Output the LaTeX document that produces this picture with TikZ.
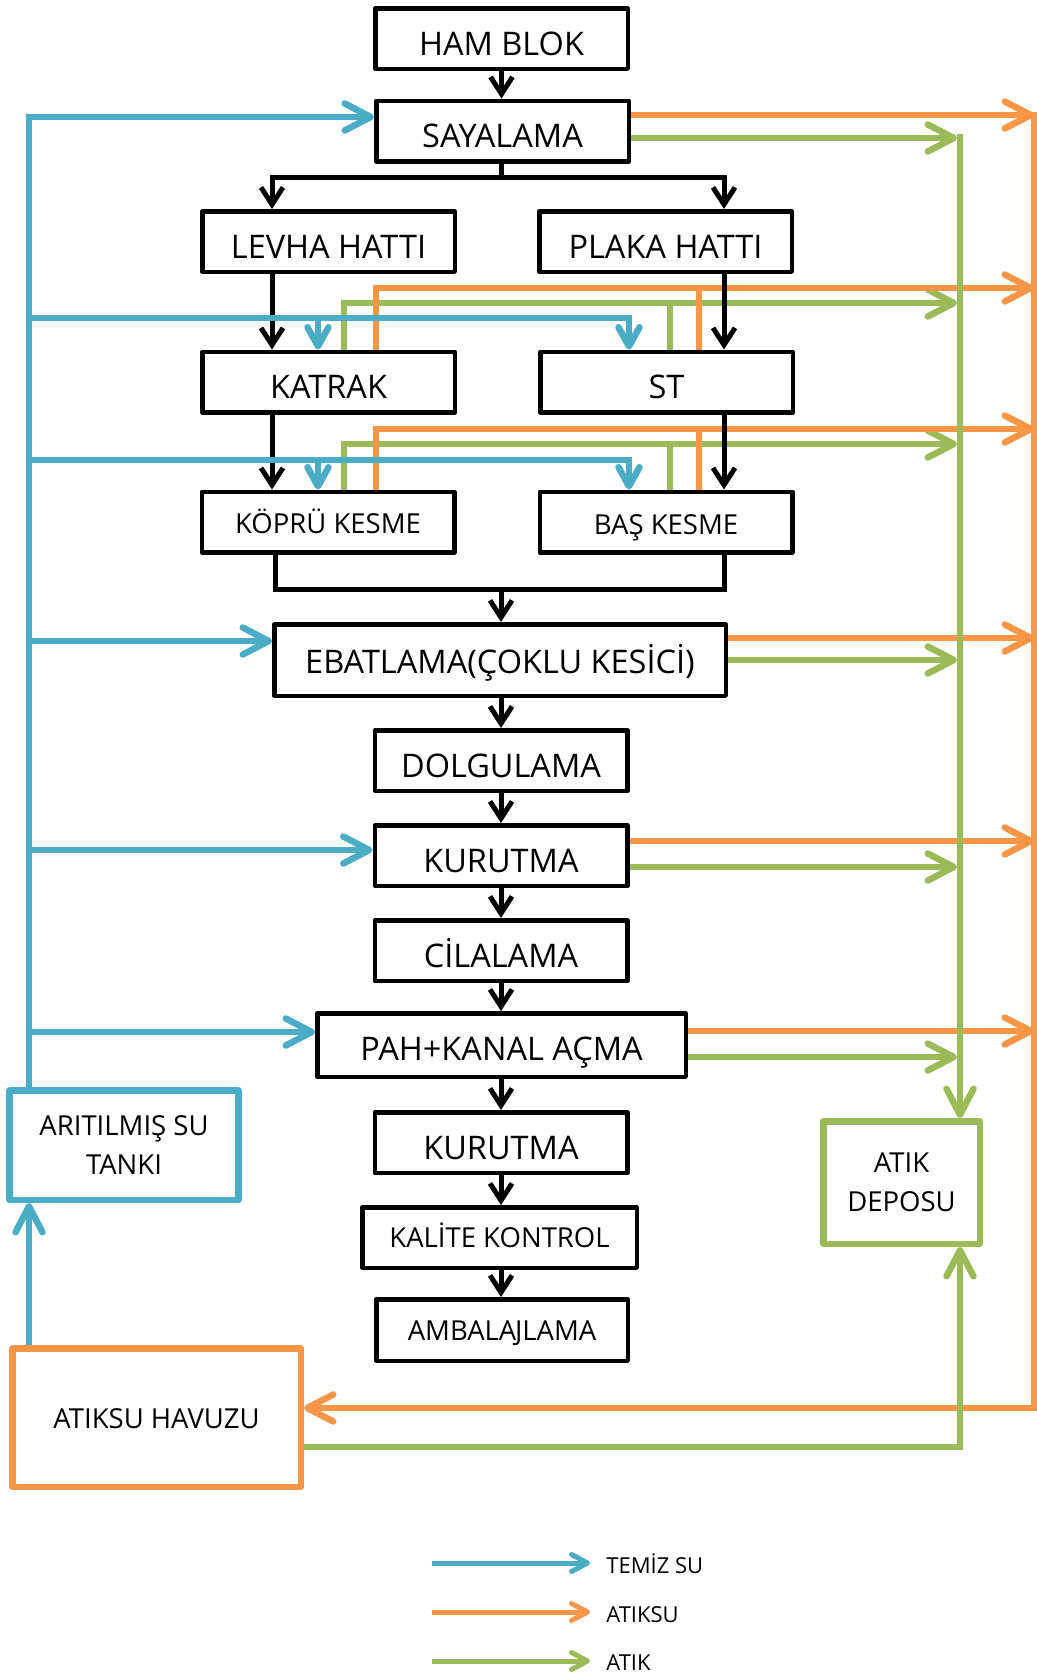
\documentclass[tikz,border=0pt]{standalone}
\usepackage{fontspec}
\setmainfont{Open Sans}
\usetikzlibrary{arrows.meta}
\definecolor{cblue}{RGB}{75,172,198}
\definecolor{corange}{RGB}{247,150,70}
\definecolor{cgreen}{RGB}{155,187,89}
\tikzset{
  box/.style 2 args={draw=black, line width=2.25pt, line join=round, inner sep=0pt, minimum width=#1, minimum height=#2, fill=white},
  stdbox/.style={box={126.25pt}{30.25pt}},
  cbox/.style n args={3}{draw=#1, line width=3.25pt, line join=round, inner sep=0pt, minimum width=#2, minimum height=#3, align=center, fill=white},
  bigf/.style={font=\fontsize{16.25}{19.5}\selectfont},
  smlf/.style={font=\fontsize{13.75}{19.25}\selectfont},
  legf/.style={font=\fontsize{11}{13}\selectfont},
  txh/.style={text height=#1, text depth=0pt},
  bk/.style={draw=black, line width=2.5pt},
  ba/.style={draw=black, line width=2.5pt, -{Straight Barb[length=8.5pt,width=11pt]}},
  cb/.style={draw=cblue, line width=3.25pt},
  co/.style={draw=corange, line width=3.25pt},
  cg/.style={draw=cgreen, line width=3.25pt},
  bigtip/.style={-{Straight Barb[length=13pt,width=13.5pt,round]}},
  smltip/.style={-{Straight Barb[length=9.5pt,width=10.5pt,round]}},
  legtip/.style={line width=2.5pt, -{Straight Barb[length=8pt,width=8.5pt,round]}},
}
\begin{document}
\begin{tikzpicture}[x=0.5pt,y=-0.5pt]
\useasboundingbox (0,0) rectangle (1037,1677);
\fill[white] (0,0) rectangle (1037,1677);

% ---------- boxes ----------
\node[stdbox, bigf, txh=16.6pt] (ham)    at (501.5,38.5)  {HAM BLOK};
\node[stdbox, bigf, txh=16.6pt] (saya)   at (502.5,131)   {SAYALAMA};
\node[stdbox, bigf, txh=16.6pt] (levha)  at (328.5,241.5) {LEVHA HATTI};
\node[stdbox, bigf, txh=16.6pt] (plaka)  at (665.5,241.5) {PLAKA HATTI};
\node[stdbox, bigf, txh=16.6pt] (katrak) at (328.5,382)   {KATRAK};
\node[stdbox, bigf, txh=16.6pt] (st)     at (666.5,382)   {ST};
\node[stdbox, smlf, txh=11.8pt] (kopru)  at (328,522)     {KÖPRÜ KESME};
\node[stdbox, smlf, txh=12.3pt] (bas)    at (666,522)     {BAŞ KESME};
\node[box={225.75pt}{35.75pt}, bigf, txh=13.1pt] (ebat) at (500,660) {EBATLAMA(ÇOKLU KESİCİ)};
\node[stdbox, bigf, txh=16.6pt] (dolgu)  at (501,760.5)   {DOLGULAMA};
\node[stdbox, bigf, txh=16.6pt] (kuru1)  at (501,855.5)   {KURUTMA};
\node[stdbox, bigf, txh=16.6pt] (cila)   at (501,950.5)   {CİLALAMA};
\node[box={184.25pt}{31.75pt}, bigf, txh=15.1pt] (pah) at (501.5,1045) {PAH+KANAL AÇMA};
\node[stdbox, bigf, txh=16.6pt] (kuru2)  at (501,1142.5)  {KURUTMA};
\node[box={137.25pt}{30.25pt}, smlf, txh=9.8pt] (kalite) at (499.5,1237.5) {KALİTE KONTROL};
\node[box={125.75pt}{30.75pt}, smlf, txh=10.8pt] (ambal) at (502,1330) {AMBALA\kern-0.7pt JLAMA};
\node[cbox={cblue}{114.5pt}{54.75pt}, smlf] (arit) at (124,1145) {ARITILMIŞ SU\\TANKI};
\node[cbox={cgreen}{78.25pt}{61.25pt}, smlf] (atik) at (901.5,1182.5) {ATIK\\DEPOSU};
\node[cbox={corange}{144.25pt}{69.25pt}, smlf, txh=11.3pt] (havuz) at (156.5,1417.5) {ATIKSU HAVUZU};

% ---------- lane coordinates ----------
\coordinate (xL) at (272,0);
\coordinate (xP) at (724,0);
\coordinate (xK2) at (275,0);
\coordinate (xM) at (501,0);
\coordinate (xB) at (29,0);
\coordinate (xb1) at (318,0);
\coordinate (xb2) at (629,0);
\coordinate (xg1) at (344,0);
\coordinate (xg2) at (670,0);
\coordinate (xo1) at (376,0);
\coordinate (xo2) at (699,0);
\coordinate (xG) at (960,0);
\coordinate (xGt) at (957,0);
\coordinate (xO) at (1034,0);
\coordinate (ysplit) at (0,177);
\coordinate (yjoin) at (0,589);
\coordinate (y112) at (0,112);
\coordinate (y115) at (0,115);
\coordinate (y117) at (0,117);
\coordinate (y134) at (0,134);
\coordinate (y138) at (0,138);
\coordinate (y288) at (0,288);
\coordinate (y303) at (0,303);
\coordinate (y318) at (0,318);
\coordinate (y429) at (0,429);
\coordinate (y444) at (0,444);
\coordinate (y460) at (0,460);
\coordinate (y638) at (0,638);
\coordinate (y641) at (0,641);
\coordinate (y660) at (0,660);
\coordinate (y841) at (0,841);
\coordinate (y850) at (0,850);
\coordinate (y867) at (0,867);
\coordinate (y1031) at (0,1031);
\coordinate (y1032) at (0,1032);
\coordinate (y1057) at (0,1057);
\coordinate (y1408) at (0,1408);
\coordinate (y1447) at (0,1447);

% ---------- green lanes ----------
\draw[cg, bigtip] (saya.east |- y138) -- (xGt |- y138);
\draw[cg, bigtip] (katrak.north -| xg1) |- (xGt |- y303);
\draw[cg] (st.north -| xg2) -- (xg2 |- y303);
\draw[cg, bigtip] (kopru.north -| xg1) |- (xGt |- y444);
\draw[cg] (bas.north -| xg2) -- (xg2 |- y444);
\draw[cg, bigtip] (ebat.east |- y660) -- (xGt |- y660);
\draw[cg, bigtip] (kuru1.east |- y867) -- (xGt |- y867);
\draw[cg, bigtip] (pah.east |- y1057) -- (xGt |- y1057);

% ---------- orange lanes ----------
\draw[co, bigtip] (saya.east |- y115) -- (xO |- y115);
\draw[co, bigtip] (katrak.north -| xo1) |- (xO |- y288);
\draw[co] (st.north -| xo2) -- (xo2 |- y288);
\draw[co, bigtip] (kopru.north -| xo1) |- (xO |- y429);
\draw[co] (bas.north -| xo2) -- (xo2 |- y429);
\draw[co, bigtip] (ebat.east |- y638) -- (xO |- y638);
\draw[co, bigtip] (kuru1.east |- y841) -- (xO |- y841);
\draw[co, bigtip] (pah.east |- y1031) -- (xO |- y1031);
\draw[co, bigtip] (xO |- y112) |- (havuz.east |- y1408);

% ---------- green collectors ----------
\draw[cg, bigtip] (xG |- y134) -- (atik.north -| xG);
\draw[cg, bigtip] (havuz.east |- y1447) -| (atik.south -| xG);

% ---------- black flow ----------
\draw[ba] (ham.south) -- (ham.south |- saya.north);
\draw[bk] (saya.south -| xM) -- (xM |- ysplit);
\draw[ba] (xM |- ysplit) -| (levha.north -| xL);
\draw[ba] (xM |- ysplit) -| (plaka.north -| xP);
\draw[ba] (levha.south -| xL) -- (katrak.north -| xL);
\draw[ba] (plaka.south -| xP) -- (st.north -| xP);
\draw[ba] (katrak.south -| xL) -- (kopru.north -| xL);
\draw[ba] (st.south -| xP) -- (bas.north -| xP);
\draw[bk] (kopru.south -| xK2) |- (xP |- yjoin) -- (bas.south -| xP);
\draw[ba] (xM |- yjoin) -- (ebat.north -| xM);
\draw[ba] (ebat.south -| xM) -- (dolgu.north -| xM);
\draw[ba] (dolgu.south -| xM) -- (kuru1.north -| xM);
\draw[ba] (kuru1.south -| xM) -- (cila.north -| xM);
\draw[ba] (cila.south -| xM) -- (pah.north -| xM);
\draw[ba] (pah.south -| xM) -- (kuru2.north -| xM);
\draw[ba] (kuru2.south -| xM) -- (kalite.north -| xM);
\draw[ba] (kalite.south -| xM) -- (ambal.north -| xM);

% ---------- blue (clean water) ----------
\draw[cb, bigtip] (arit.north -| xB) |- (saya.west |- y117);
\draw[cb, smltip] (xB |- y318) -| (st.north -| xb2);
\draw[cb, smltip] (xb1 |- y318) -- (katrak.north -| xb1);
\draw[cb, smltip] (xB |- y460) -| (bas.north -| xb2);
\draw[cb, smltip] (xb1 |- y460) -- (kopru.north -| xb1);
\draw[cb, bigtip] (xB |- y641) -- (ebat.west |- y641);
\draw[cb, bigtip] (xB |- y850) -- (kuru1.west |- y850);
\draw[cb, bigtip] (xB |- y1032) -- (pah.west |- y1032);
\draw[cb, bigtip] (havuz.north -| xB) -- (arit.south -| xB);

% ---------- legend ----------
\coordinate (l1a) at (432,1563); \coordinate (l1b) at (590,1563);
\coordinate (l2a) at (432,1612); \coordinate (l2b) at (590,1612);
\coordinate (l3a) at (432,1661); \coordinate (l3b) at (590,1661);
\draw[draw=cblue, legtip] (l1a) -- (l1b);
\draw[draw=corange, legtip] (l2a) -- (l2b);
\draw[draw=cgreen, legtip] (l3a) -- (l3b);
\node[legf, anchor=base west, inner sep=0pt] (lt1) at (606,1573) {TEMİZ SU};
\node[legf, anchor=base west, inner sep=0pt] (lt2) at (606,1622) {ATIKSU};
\node[legf, anchor=base west, inner sep=0pt] (lt3) at (606,1670) {ATIK};
\end{tikzpicture}
\end{document}
